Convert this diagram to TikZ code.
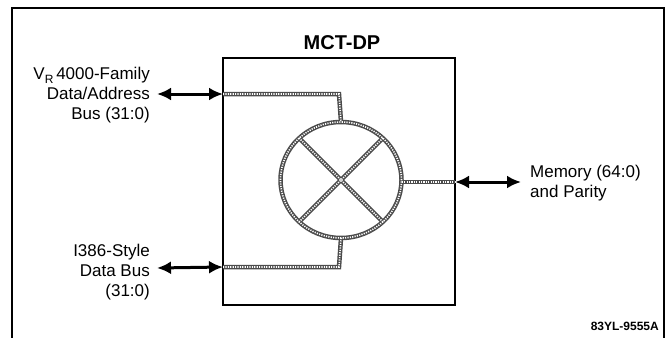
\documentclass[tikz,border=0pt]{standalone}
\usepackage{fontspec}
\setmainfont{Liberation Sans}
\usetikzlibrary{arrows.meta,shapes.geometric}
\tikzset{
  bus/.style={line width=4.5pt, draw=black!70},
  busdots/.style={line width=1.6pt, draw=white, dash pattern=on 1.2pt off 1.2pt},
  dbl/.style={line width=3pt, {Latex[length=14pt,width=13pt]}-{Latex[length=14pt,width=13pt]}},
  lbl/.style={font=\fontsize{17}{20}\selectfont, inner sep=0pt},
  frame/.style={line width=1.3pt}
}
\begin{document}
\begin{tikzpicture}[x=1pt,y=-1pt]
\useasboundingbox (0,0) rectangle (668,337);
% outer frame (open at bottom)
\draw[frame] (12,345) -- (12,8) -- (664,8) -- (664,345);
% main box
\node[draw, line width=2.4pt, minimum width=232pt, minimum height=247pt, inner sep=0pt] (box) at (339,181.5) {};
\node[font=\fontsize{20}{24}\selectfont\bfseries, inner sep=0pt] (title) at (342,43) {MCT-DP};
% crossbar ellipse
\node[ellipse, minimum width=121pt, minimum height=116pt, inner sep=0pt] (sw) at (341,180) {};
\coordinate (tl) at (223,94);
\coordinate (tc) at (339,94);
\coordinate (bl) at (223,267);
\coordinate (bc) at (339,267);
\coordinate (rr) at (455,182);
% bus paths
\foreach \st in {bus,busdots}{
  \draw[\st] (sw.center) ellipse [x radius=60.5pt, y radius=58pt];
  \draw[\st] (sw.45) -- (sw.225);
  \draw[\st] (sw.135) -- (sw.315);
  \draw[\st] (tl) -- (tc) -- (sw.north);
  \draw[\st] (bl) -- (bc) -- (sw.south);
  \draw[\st] (sw.east |- rr) -- (rr);
}
% labels
\node[lbl, align=right, anchor=east] (vr) at (150,95) {V\raisebox{-4pt}{\fontsize{12}{12}\selectfont R}\,4000-Family\\Data/Address\\Bus (31:0)};
\node[lbl, align=right, anchor=east] (i386) at (150,272) {I386-Style\\Data Bus\\(31:0)};
\node[lbl, align=left, anchor=west] (mem) at (530,183) {Memory (64:0)\\and Parity};
\node[font=\fontsize{12}{14}\selectfont\bfseries, anchor=east, inner sep=0pt] (code) at (659,326) {83YL-9555A};
% arrows
\coordinate (a1) at (157,94);
\coordinate (a2) at (157,268);
\coordinate (a3) at (521,182);
\draw[dbl] (a1) -- (tl);
\draw[dbl] (a2) -- (bl);
\draw[dbl] (rr) -- (a3);
\end{tikzpicture}
\end{document}
